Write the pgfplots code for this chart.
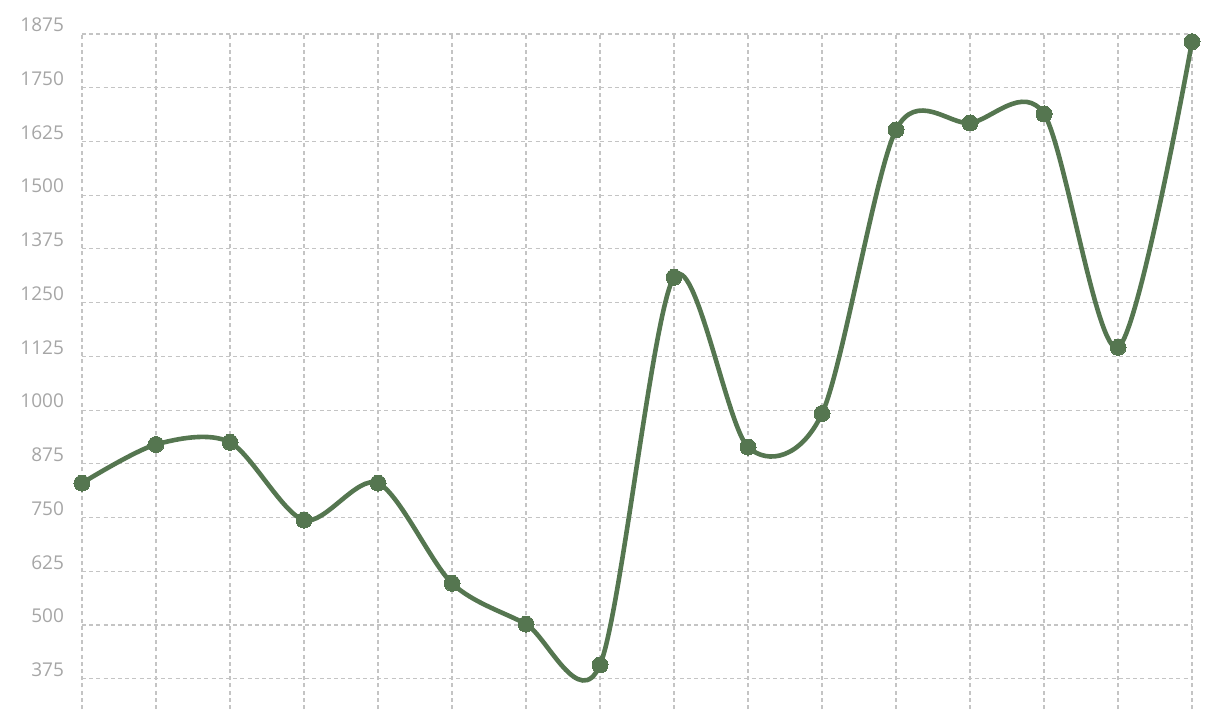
\documentclass[border=0pt]{standalone}
\usepackage{fontspec}
\setmainfont{Open Sans}
\usepackage{pgfplots}
\pgfplotsset{compat=1.18}
\definecolor{linegreen}{HTML}{557650}
\definecolor{gridgray}{HTML}{C4C4C4}
\definecolor{labelgray}{HTML}{A6A6A6}
\begin{document}
\begin{tikzpicture}
  \begin{axis}[
    scale only axis,
    width=555pt,
    height=337.5pt,
    xmin=0, xmax=15,
    ymin=304.5, ymax=1875,
    xtick={0,1,...,15},
    xticklabels={},
    ytick={375,500,...,1875},
    axis line style={draw=none},
    tick style={draw=none},
    grid=major,
    major grid style={gridgray, line width=0.55pt, dash pattern=on 2pt off 1.6pt},
    /pgf/number format/assume math mode=true,
    /pgf/number format/1000 sep={},
    yticklabel style={font=\fontsize{9.5}{11}\selectfont, text=labelgray, anchor=east, xshift=-5.5pt, yshift=4.5pt},
    clip=false,
  ]
  \addplot[linegreen, line width=2.3pt, smooth, tension=0.5, mark=*, mark size=4pt,
    mark options={fill=linegreen, draw=linegreen, line width=0pt}]
    coordinates {
      (0, 830) (1, 920) (2, 925) (3, 744) (4, 830) (5, 597) (6, 502) (7, 407)
      (8, 1309) (9, 914) (10, 992) (11, 1652) (12, 1668) (13, 1689) (14, 1146) (15, 1857)
    };
  \end{axis}
  \pgfresetboundingbox
  \path[use as bounding box] (-41pt,0) rectangle (566pt,354.5pt);
\end{tikzpicture}
\end{document}
